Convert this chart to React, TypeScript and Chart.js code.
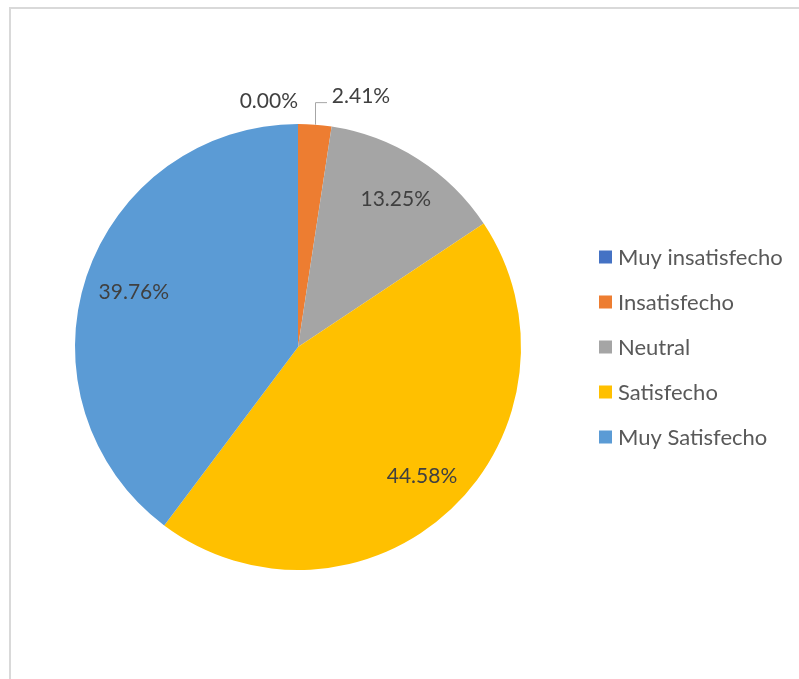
import React, { useEffect, useRef } from "react";
import { Chart, registerables } from "chart.js";

Chart.register(...registerables);

const categories = ["Muy insatisfecho", "Insatisfecho", "Neutral", "Satisfecho", "Muy Satisfecho"];
const counts = [0, 2, 11, 37, 33];
const colors = ["#4472C4", "#ED7D31", "#A5A5A5", "#FFC000", "#5B9BD5"];

const FONT = "Lato, 'Open Sans', sans-serif";
const LABEL_SIZE = 21;
const LEGEND_SIZE = 22;

const labelPlugin = {
  id: "pieLabels",
  afterDatasetsDraw(chart: any) {
    const ctx = chart.ctx;
    const meta = chart.getDatasetMeta(0);
    const data = chart.data.datasets[0].data as number[];
    const total = data.reduce((a, b) => a + b, 0);
    ctx.save();
    ctx.font = `${LABEL_SIZE}px ${FONT}`;
    ctx.fillStyle = "#404040";
    ctx.textBaseline = "middle";
    meta.data.forEach((arc: any, i: number) => {
      const { x, y, startAngle, endAngle, outerRadius } = arc.getProps(
        ["x", "y", "startAngle", "endAngle", "outerRadius"],
        true
      );
      const pct = ((data[i] / total) * 100).toFixed(2) + "%";
      const mid = (startAngle + endAngle) / 2;
      const pct_v = (data[i] / total) * 100;
      if (pct_v >= 5) {
        const r = outerRadius * 0.79;
        ctx.textAlign = "center";
        ctx.fillText(pct, x + r * Math.cos(mid) + 3, y + r * Math.sin(mid) + 1);
      } else if (data[i] === 0) {
        const px = x + outerRadius * Math.cos(mid);
        const py = y + outerRadius * Math.sin(mid);
        ctx.textAlign = "right";
        ctx.fillText(pct, px, py - 23);
      } else {
        const px = x + outerRadius * Math.cos(mid);
        const py = y + outerRadius * Math.sin(mid);
        ctx.strokeStyle = "#A6A6A6";
        ctx.lineWidth = 1;
        ctx.beginPath();
        ctx.moveTo(Math.round(px) + 0.5, py);
        ctx.lineTo(Math.round(px) + 0.5, py - 22);
        ctx.lineTo(Math.round(px) + 12, py - 22);
        ctx.stroke();
        ctx.textAlign = "left";
        ctx.fillText(pct, px + 17, py - 28);
      }
    });
    ctx.restore();
  },
};

const legendPlugin = {
  id: "customLegend",
  afterDraw(chart: any) {
    const ctx = chart.ctx;
    const labels = chart.data.labels as string[];
    const bg = chart.data.datasets[0].backgroundColor as string[];
    const area = chart.chartArea;
    const x0 = area.right + 78;
    const yStart = area.top + 133;
    const step = 45;
    ctx.save();
    ctx.font = `${LEGEND_SIZE}px ${FONT}`;
    ctx.textBaseline = "middle";
    ctx.textAlign = "left";
    labels.forEach((lab, i) => {
      const cy = yStart + i * step;
      ctx.fillStyle = bg[i];
      ctx.fillRect(x0, cy - 6.5, 13, 13);
      ctx.fillStyle = "#595959";
      ctx.fillText(lab, x0 + 19, cy + 1);
    });
    ctx.restore();
  },
};

export default function App() {
  const ref = useRef<HTMLCanvasElement>(null);
  useEffect(() => {
    if (!ref.current) return;
    const chart = new Chart(ref.current, {
      type: "pie",
      data: {
        labels: categories,
        datasets: [
          {
            data: counts,
            backgroundColor: colors,
            borderWidth: 0,
          },
        ],
      },
      options: {
        responsive: false,
        animation: false,
        devicePixelRatio: 1,
        layout: { padding: { left: 75, top: 124, right: 278, bottom: 109 } },
        plugins: {
          legend: { display: false },
          tooltip: { enabled: false },
        },
      },
      plugins: [labelPlugin, legendPlugin],
    });
    return () => chart.destroy();
  }, []);
  return (
    <div style={{ position: "absolute", left: 0, top: 0, width: 799, height: 679, background: "#fff", overflow: "hidden" }}>
      <div
        style={{
          position: "absolute",
          left: 9,
          top: 7,
          width: 800,
          height: 700,
          borderTop: "2px solid #D9D9D9",
          borderLeft: "2px solid #D9D9D9",
        }}
      />
      <canvas ref={ref} width={799} height={679} style={{ position: "absolute", left: 0, top: 0 }} />
    </div>
  );
}
